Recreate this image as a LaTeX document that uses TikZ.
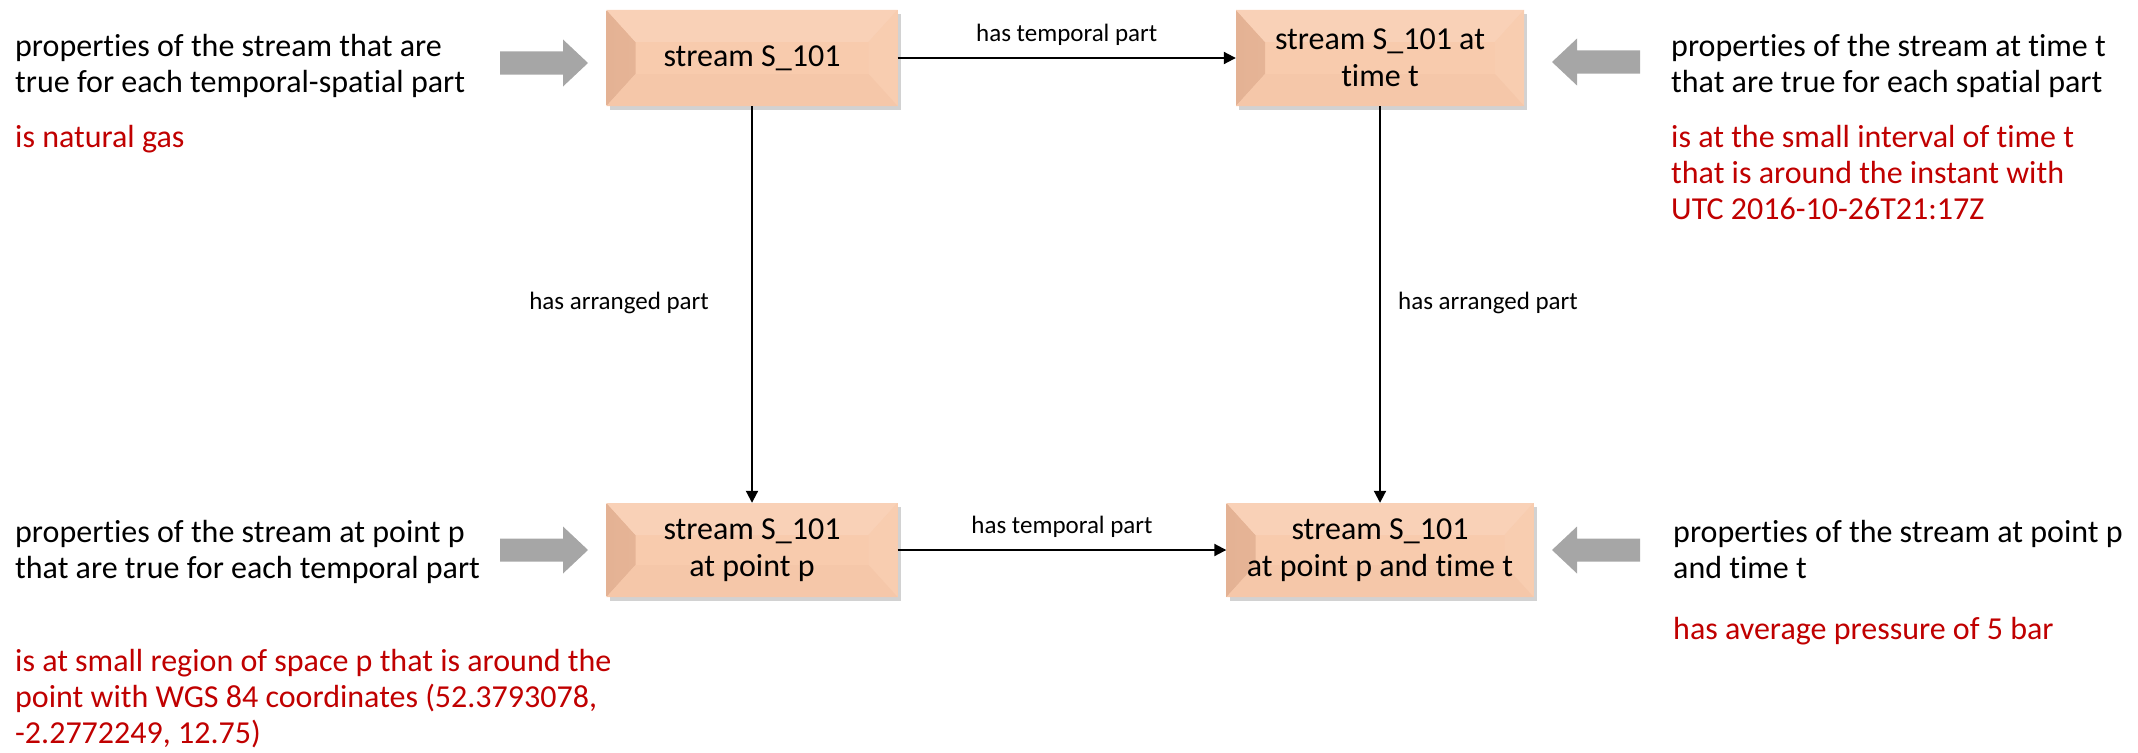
\documentclass[tikz,border=0pt]{standalone}
\usepackage{fontspec}
\setmainfont{Carlito}[Ligatures=NoCommon]
\usetikzlibrary{arrows.meta,shadows}
\definecolor{boxface}{RGB}{248,203,173}
\definecolor{bevleft}{RGB}{228,178,148}
\definecolor{bevleftin}{RGB}{244,198,168}
\definecolor{bevtop}{RGB}{249,209,183}
\definecolor{bevright}{RGB}{248,205,176}
\definecolor{bevbot}{RGB}{245,199,169}
\definecolor{redtxt}{RGB}{192,0,0}
\definecolor{grayarr}{RGB}{166,166,166}
\begin{document}
\begin{tikzpicture}[x=1pt,y=-1pt,
  stbox/.style={rectangle, fill=boxface, inner sep=0pt, align=center,
    font=\fontsize{32}{37}\selectfont,
    drop shadow={shadow xshift=3pt, shadow yshift=-4pt, opacity=0.25, fill=black!70},
    path picture={
      \shade[left color=bevleft, right color=bevleftin]
        (path picture bounding box.north west) -- ++(29pt,-32pt)
        -- ([shift={(29pt,32pt)}]path picture bounding box.south west)
        -- (path picture bounding box.south west) -- cycle;
      \fill[bevtop]
        (path picture bounding box.north west) -- (path picture bounding box.north east)
        -- ([shift={(-29pt,-32pt)}]path picture bounding box.north east)
        -- ([shift={(29pt,-32pt)}]path picture bounding box.north west) -- cycle;
      \fill[bevright]
        (path picture bounding box.north east) -- (path picture bounding box.south east)
        -- ([shift={(-29pt,32pt)}]path picture bounding box.south east)
        -- ([shift={(-29pt,-32pt)}]path picture bounding box.north east) -- cycle;
      \fill[bevbot]
        (path picture bounding box.south west) -- (path picture bounding box.south east)
        -- ([shift={(-29pt,32pt)}]path picture bounding box.south east)
        -- ([shift={(29pt,32pt)}]path picture bounding box.south west) -- cycle;
    }},
  sidetext/.style={anchor=north west, inner sep=0pt, align=left,
    font=\fontsize{32}{36}\selectfont},
  redtext/.style={sidetext, text=redtxt},
  edgelabel/.style={inner sep=0pt, font=\fontsize{25}{30}\selectfont},
  conn/.style={line width=2pt, -{Triangle[length=12pt,width=12pt]}},
  grayR/.pic={\fill[grayarr] (0,-11.5) -- (63,-11.5) -- (63,-23.5) -- (88,0)
     -- (63,23.5) -- (63,11.5) -- (0,11.5) -- cycle;}
]
\useasboundingbox (0,0) rectangle (2138,752);

% boxes
\node[stbox, minimum width=291pt, minimum height=96pt] (A) at (752,58) {stream S\_101};
\node[stbox, minimum width=288pt, minimum height=96pt] (B) at (1380,58) {stream S\_101 at\\time t};
\node[stbox, minimum width=291pt, minimum height=94pt] (C) at (752,550) {stream S\_101\\at point p};
\node[stbox, minimum width=307pt, minimum height=94pt] (D) at (1380,550) {stream S\_101\\at point p and time t};

% connectors
\draw[conn] (A.east) -- node[edgelabel, above=11pt] (l1) {has temporal part} (B.west);
\draw[conn] (A.south) -- (C.north);
\draw[conn] (B.south) -- (D.north);
\draw[conn] (C.east) -- node[edgelabel, above=11pt] (l4) {has temporal part} (D.west);
\node[edgelabel, anchor=east] (l2) at (709,303) {has arranged part};
\node[edgelabel, anchor=west] (l3) at (1398,303) {has arranged part};

% gray arrows
\pic at (500,63) {grayR};
\pic[xscale=-1] at (1640,62) {grayR};
\pic at (500,550) {grayR};
\pic[xscale=-1] at (1640,550) {grayR};

% side texts
\node[sidetext] (t1) at (15,34) {properties of the stream that are\\true for each temporal-spatial part};
\node[redtext] (r1) at (15,125) {is natural gas};
\node[sidetext] (t2) at (1671,34) {properties of the stream at time t\\that are true for each spatial part};
\node[redtext] (r2) at (1671,125) {is at the small interval of time t\\that is around the instant with\\UTC 2016-10-26T21:17Z};
\node[sidetext] (t3) at (15,520) {properties of the stream at point p\\that are true for each temporal part};
\node[redtext] (r3) at (15,649) {is at small region of space p that is around the\\point with WGS 84 coordinates (52.3793078,\\-2.2772249, 12.75)};
\node[sidetext] (t4) at (1673,520) {properties of the stream at point p\\and time t};
\node[redtext] (r4) at (1673,617) {has average pressure of 5 bar};
\end{tikzpicture}
\end{document}
